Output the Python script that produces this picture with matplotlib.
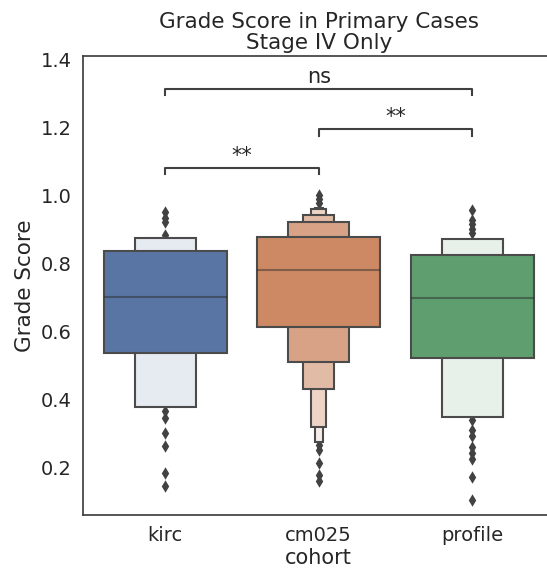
import numpy as np
import matplotlib.pyplot as plt
from matplotlib.colors import to_rgb

# cohorts and their colours (seaborn deep, desaturated)
cohorts = ['kirc', 'cm025', 'profile']
colors = ['#5875a3', '#cc8964', '#5f9e6e']

# letter-value box edges, innermost level first
kirc_lower = [0.536, 0.379]
kirc_upper = [0.835, 0.874]
kirc_median = 0.701
kirc_outliers = [0.951, 0.934, 0.922, 0.884, 0.366, 0.346, 0.301, 0.263, 0.184, 0.146]

cm025_lower = [0.614, 0.511, 0.430, 0.320, 0.276]
cm025_upper = [0.878, 0.923, 0.943, 0.959, 0.964]
cm025_median = 0.781
cm025_outliers = [1.001, 0.990, 0.978, 0.266, 0.251, 0.213, 0.178, 0.160]

profile_lower = [0.521, 0.348]
profile_upper = [0.824, 0.872]
profile_median = 0.699
profile_outliers = [0.957, 0.928, 0.916, 0.901, 0.890,
                    0.340, 0.310, 0.293, 0.260, 0.243, 0.225, 0.172, 0.104]

lowers = [kirc_lower, cm025_lower, profile_lower]
uppers = [kirc_upper, cm025_upper, profile_upper]
medians = [kirc_median, cm025_median, profile_median]
outliers = [kirc_outliers, cm025_outliers, profile_outliers]

# significance brackets: (left, right, label)
pairs = [('kirc', 'cm025', '**'), ('cm025', 'profile', '**'), ('kirc', 'profile', 'ns')]
bracket_y = [1.081, 1.194, 1.312]

edge = '#4b4b4b'

fig = plt.figure(figsize=(5.47, 5.73), dpi=100)
ax = fig.add_axes([0.1512, 0.1012, 0.863, 0.8011])

for i, name in enumerate(cohorts):
    base = np.array(to_rgb(colors[i]))
    n = len(lowers[i])
    # draw outer levels first so inner ones sit on top
    for k in range(n - 1, -1, -1):
        frac = 0.85 * k / (n - 1) if n > 1 else 0
        fc = base * (1 - frac) + frac
        w = 0.8 * 0.5 ** k
        ax.bar(i, uppers[i][k] - lowers[i][k], width=w, bottom=lowers[i][k],
               color=fc, edgecolor=edge, linewidth=1.5, zorder=2 + (n - k))
    ax.plot([i - 0.4, i + 0.4], [medians[i]] * 2, color='.15', alpha=.45,
            lw=1.5, solid_capstyle='butt', zorder=20)
    ax.scatter([i] * len(outliers[i]), outliers[i], marker='d', c='.26',
               s=40, linewidths=0, zorder=1)

h = 0.018
for (a, b, lab), y in zip(pairs, bracket_y):
    x1, x2 = cohorts.index(a), cohorts.index(b)
    ax.plot([x1, x1, x2, x2], [y - h, y, y, y - h], color='0.25', lw=1.5)
    ax.annotate(lab, xy=((x1 + x2) / 2, y), xytext=(0, 1.5),
                textcoords='offset points', ha='center', va='bottom',
                fontsize=15, color='0.15')

ax.set_xlim(-0.538, 2.538)
ax.set_ylim(0.06, 1.41)
ax.set_xticks(range(len(cohorts)))
ax.set_xticklabels(cohorts, fontsize=14)
ax.set_yticks([0.2, 0.4, 0.6, 0.8, 1.0, 1.2, 1.4])
ax.tick_params(axis='y', labelsize=14, length=0, pad=8, colors='.15')
ax.tick_params(axis='x', length=0, pad=8, colors='.15')
ax.set_xlabel('cohort', fontsize=15, color='.15', labelpad=2)
ax.set_ylabel('Grade Score', fontsize=15.5, color='.15', labelpad=4)
ax.set_title('Grade Score in Primary Cases\nStage IV Only', fontsize=15.5,
             color='.15', pad=5, linespacing=1.05)
for side in ['left', 'bottom', 'top']:
    ax.spines[side].set_color('.25')
    ax.spines[side].set_linewidth(1.25)
ax.spines['right'].set_visible(False)

fig.savefig('out.png', dpi=100)
